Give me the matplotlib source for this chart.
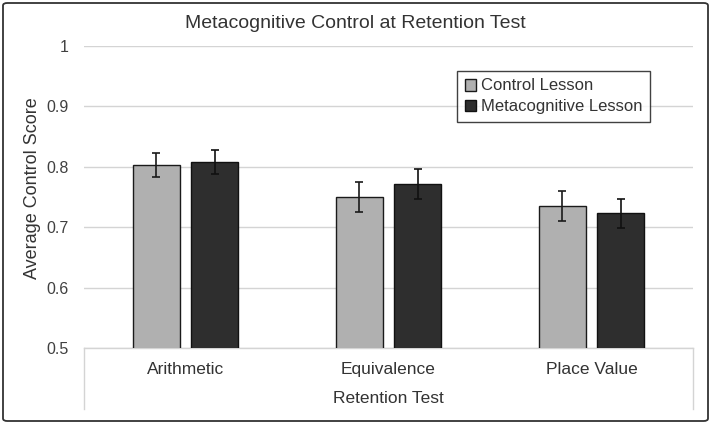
import matplotlib.pyplot as plt
import numpy as np
from matplotlib.patches import FancyBboxPatch

categories = ['Arithmetic', 'Equivalence', 'Place Value']
control = [0.803, 0.750, 0.735]
control_err = [0.020, 0.025, 0.025]
meta = [0.808, 0.772, 0.723]
meta_err = [0.020, 0.025, 0.024]
series_names = ['Control Lesson', 'Metacognitive Lesson']
yticks = [0.5, 0.6, 0.7, 0.8, 0.9, 1.0]
ytick_labels = ['0.5', '0.6', '0.7', '0.8', '0.9', '1']

plt.rcParams['font.family'] = ['Liberation Sans', 'DejaVu Sans']

fig = plt.figure(figsize=(7.11, 4.24), dpi=100)
ax = fig.add_axes([84/711, 1 - 348/424, (693 - 84)/711, (348 - 46)/424])

x = np.arange(len(categories))
w = 0.227
off = 0.143
ax.bar(x - off, control, w, yerr=control_err, color='#b0b0b0', edgecolor='#1a1a1a',
       linewidth=1.0, capsize=3, error_kw=dict(elinewidth=1.2, capthick=1.2, ecolor='#1a1a1a'),
       label=series_names[0], zorder=3)
ax.bar(x + off, meta, w, yerr=meta_err, color='#2e2e2e', edgecolor='#111111',
       linewidth=1.0, capsize=3, error_kw=dict(elinewidth=1.2, capthick=1.2, ecolor='#111111'),
       label=series_names[1], zorder=3)

ax.set_xlim(-0.5, len(categories) - 0.5)
ax.set_ylim(0.5, 1.0)
ax.set_yticks(yticks)
ax.set_yticklabels(ytick_labels)
ax.yaxis.grid(True, color='#d4d4d4', linewidth=1.0, zorder=0)
ax.set_axisbelow(True)
for s in ['top', 'right', 'left']:
    ax.spines[s].set_visible(False)
ax.spines['bottom'].set_color('#d4d4d4')
ax.spines['bottom'].set_linewidth(1.0)
ax.tick_params(axis='y', length=0, pad=11, labelsize=11.5, labelcolor='#404040')
ax.tick_params(axis='x', length=0, pad=10, labelsize=12.5, labelcolor='#333333')
ax.set_xticks(x)
ax.set_xticklabels(categories)

# category axis box lines
for xx in [-0.5, len(categories) - 0.5]:
    ax.plot([xx, xx], [0.5, 0.5 - 61/604], color='#d4d4d4', linewidth=1.0,
            clip_on=False)

ax.set_xlabel('Retention Test', fontsize=12.5, color='#333333', labelpad=10)
ax.set_ylabel('Average Control Score', fontsize=13, color='#333333')
ax.yaxis.set_label_coords(-0.07, 0.53)
fig.text(0.5, 1 - 23/424, 'Metacognitive Control at Retention Test',
         ha='center', va='center', fontsize=14, color='#333333')

leg = ax.legend(loc='upper left', bbox_to_anchor=((457 - 84)/609, 1 - (71 - 46)/302),
                fontsize=12, frameon=True, fancybox=False, edgecolor='#111111',
                handlelength=0.7, handleheight=0.7, handletextpad=0.3,
                borderpad=0.45, labelspacing=0.35, borderaxespad=0)
leg.get_frame().set_linewidth(1.0)
for t in leg.get_texts():
    t.set_color('#333333')

fig.patches.append(FancyBboxPatch((3/711, 3/424), 705/711, 418/424,
                                  boxstyle='round,pad=0,rounding_size=0.006',
                                  transform=fig.transFigure, fill=False,
                                  edgecolor='#333333', linewidth=1.3))

fig.savefig('out.png', dpi=100)
